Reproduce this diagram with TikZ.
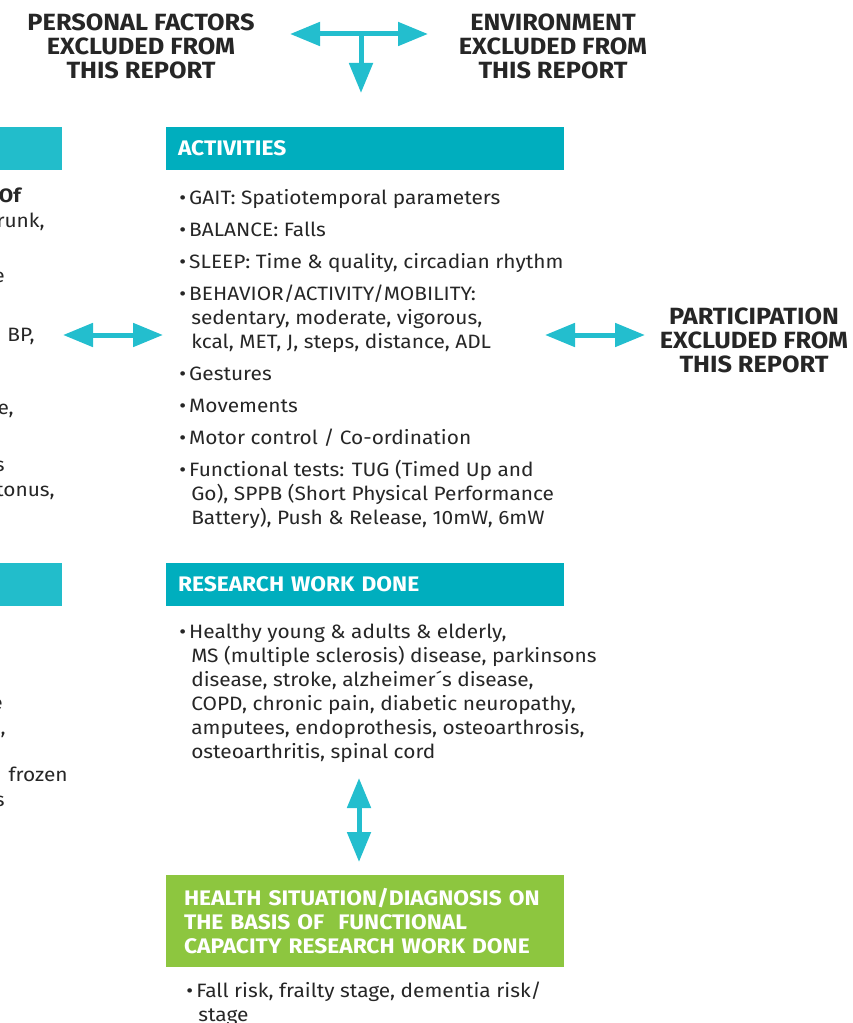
\documentclass[tikz,border=0pt]{standalone}
\usepackage{fontspec}
\setmainfont[FakeStretch=1.08]{Fira Sans}
\usetikzlibrary{arrows.meta,positioning}
\definecolor{barcyan}{HTML}{00AEBE}
\definecolor{leftcyan}{HTML}{22BDCB}
\definecolor{arrowcyan}{HTML}{23BECE}
\definecolor{barlime}{HTML}{8DC63F}
\definecolor{inkgray}{HTML}{262626}
\newcommand{\blt}{\makebox[7.5pt][l]{\textbullet}}
\newcommand{\ind}{\hspace*{9pt}}
\tikzset{
  fat/.tip={Triangle[length=22.5pt,width=17.25pt]},
  fatarrow/.style={arrowcyan, line width=3.75pt},
  hdr/.style={font=\bfseries\fontsize{17.6}{18}\selectfont, text=inkgray, align=center, inner sep=0pt},
  bar/.style={minimum height=32.25pt, text width=280.5pt, inner xsep=9pt, inner ysep=0pt,
    align=left, text=white, font=\bfseries\fontsize{15.8}{18}\selectfont},
  txt/.style={font=\fontsize{14.5}{18}\selectfont, text=inkgray, align=left, inner sep=0pt},
  frag/.style={font=\fontsize{14.5}{18}\selectfont, text=inkgray, anchor=base east, inner sep=0pt}
}
\begin{document}
\begin{tikzpicture}[x=0.75pt,y=-0.75pt]
    \useasboundingbox (0,0) rectangle (852,1023);
    \clip (0,0) rectangle (852,1023);

    \node[hdr] (personal) at (141,46) {PERSONAL FACTORS\\EXCLUDED FROM\\THIS REPORT};
    \node[hdr] (environment) at (553,46) {ENVIRONMENT\\EXCLUDED FROM\\THIS REPORT};
    \coordinate (tleft) at (290,34);
    \coordinate (tright) at (428,34);
    \coordinate (tmid) at (361,34);
    \coordinate (tdown) at (361,93);
    \draw[fatarrow, fat-fat] (tleft) -- (tright);
    \draw[fatarrow, -fat] (tmid) -- (tdown);

    % left column, cut by the page edge
    \node[bar, fill=leftcyan, anchor=east] (bodybar) at (62,148.5) {};
    \node[frag, font=\bfseries\fontsize{14.5}{18}\selectfont] (fragA) at (21,203) {Of};
    \node[frag] (fragB) at (45,228) {runk,};
    \node[frag] (fragC) at (5,283) {e};
    \node[frag] (fragD) at (35,341) {BP,};
    \node[frag] (fragE) at (14,414) {e,};
    \node[frag] (fragF) at (5,471) {s};
    \node[frag] (fragG) at (55,496) {tonus,};
    \node[bar, fill=leftcyan, anchor=east] (healthbar) at (62,584) {};
    \node[frag] (fragH) at (3,709) {e};
    \node[frag] (fragI) at (6,734) {),};
    \node[frag] (fragJ) at (68,781) {frozen};
    \node[frag] (fragK) at (5,806) {s};

    % activities
    \node[bar, fill=barcyan] (activities) at (365,148.5) {ACTIVITIES};
    \node[txt, anchor=north west] (actlist) at (179,189) {%
        \blt GAIT: Spatiotemporal parameters\\[6pt]
        \blt BALANCE: Falls\\[6pt]
        \blt SLEEP: Time \& quality, circadian rhythm\\[6pt]
        \blt BEHAVIOR/ACTIVITY/MOBILITY:\\
        \ind sedentary, moderate, vigorous,\\
        \ind kcal, MET, J, steps, distance, ADL\\[6pt]
        \blt Gestures\\[6pt]
        \blt Movements\\[6pt]
        \blt Motor control / Co-ordination\\[6pt]
        \blt Functional tests: TUG (Timed Up and\\
        \ind Go), SPPB (Short Physical Performance\\
        \ind Battery), Push \& Release, 10mW, 6mW};
    \node[hdr] (participation) at (754,340) {PARTICIPATION\\EXCLUDED FROM\\THIS REPORT};
    \coordinate (lleft) at (63,335);
    \coordinate (lright) at (163,335);
    \coordinate (rleft) at (545,335);
    \coordinate (rright) at (645,335);
    \draw[fatarrow, fat-fat] (lleft) -- (lright);
    \draw[fatarrow, fat-fat] (rleft) -- (rright);

    % research
    \node[bar, fill=barcyan] (research) at (365,584) {RESEARCH WORK DONE};
    \node[txt, anchor=north west] (reslist) at (179,624) {%
        \blt Healthy young \& adults \& elderly,\\
        \ind MS (multiple sclerosis) disease, parkinsons\\
        \ind disease, stroke, alzheimer´s disease,\\
        \ind COPD, chronic pain, diabetic neuropathy,\\
        \ind amputees, endoprothesis, osteoarthrosis,\\
        \ind osteoarthritis, spinal cord};
    \coordinate (vtop) at (359,778);
    \coordinate (vbottom) at (359,862);
    \draw[fatarrow, fat-fat] (vtop) -- (vbottom);

    % health situation
    \node[bar, fill=barlime, minimum height=69pt, text width=271.5pt, inner xsep=13.5pt]
        (health) at (365,921) {HEALTH SITUATION/DIAGNOSIS ON\\THE BASIS OF\ \ FUNCTIONAL\\CAPACITY RESEARCH WORK DONE};
    \node[txt, anchor=north west] (healthlist) at (186,982) {%
        \blt Fall risk, frailty stage, dementia risk/\\
        \ind stage};
\end{tikzpicture}
\end{document}
